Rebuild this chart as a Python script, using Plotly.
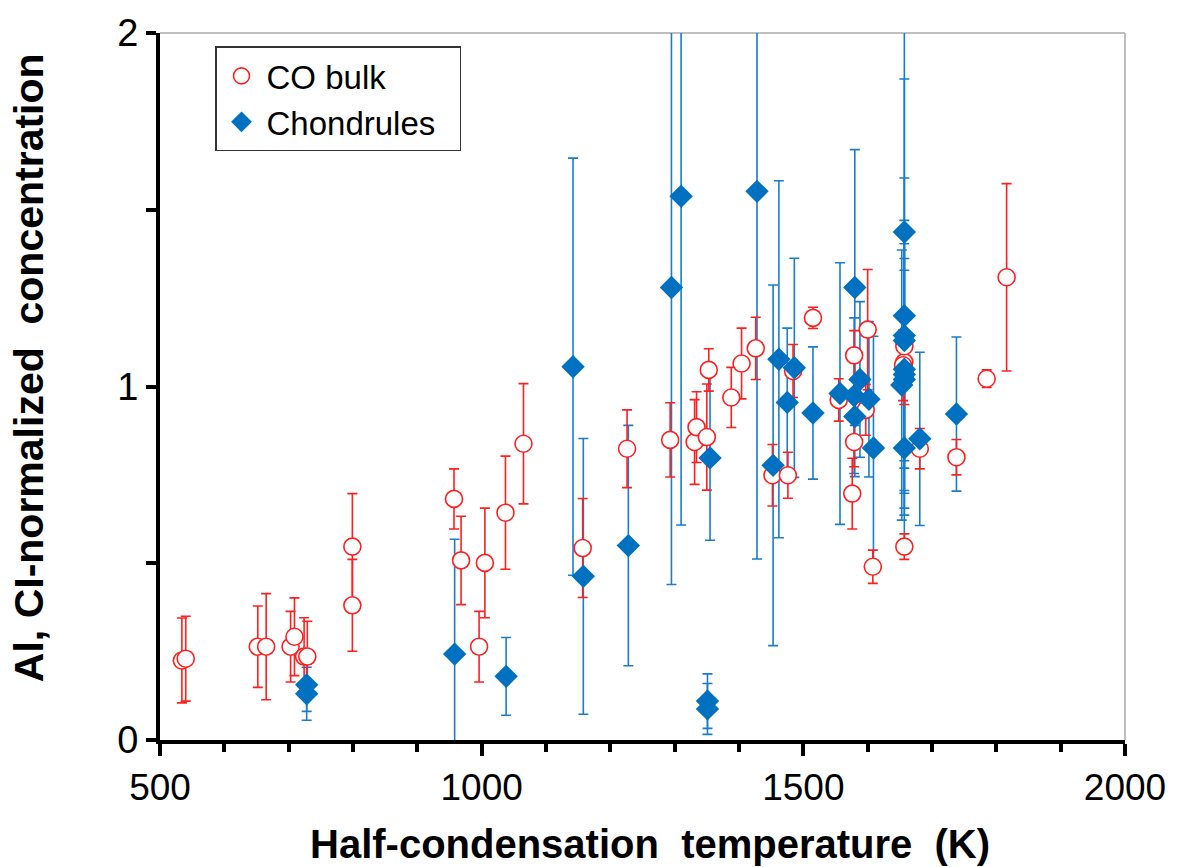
import plotly.graph_objects as go

# CO bulk (red open circles)
co_T = [534, 540, 652, 665, 703, 709, 724, 729, 799, 799, 957, 968, 996, 1005, 1037, 1065,
        1157, 1226, 1293, 1331, 1334, 1350, 1353, 1388, 1404, 1426, 1452, 1476, 1484, 1515,
        1555, 1576, 1579, 1579, 1597, 1600, 1608, 1657, 1657, 1655, 1657, 1681, 1738, 1785, 1816]
co_v = [0.225, 0.23, 0.264, 0.264, 0.264, 0.292, 0.236, 0.236, 0.547, 0.381, 0.682, 0.508, 0.264, 0.501, 0.643, 0.838,
        0.543, 0.824, 0.849, 0.843, 0.885, 0.857, 1.047, 0.969, 1.065, 1.108, 0.749, 0.749, 1.044, 1.194,
        0.962, 0.697, 0.843, 1.088, 0.934, 1.161, 0.49, 0.547, 1.069, 1.06, 1.114, 0.824, 0.80, 1.022, 1.309]
co_err = [0.12, 0.12, 0.115, 0.15, 0.1, 0.11, 0.11, 0.1, 0.15, 0.13, 0.085, 0.125, 0.1, 0.155, 0.16, 0.17,
          0.14, 0.11, 0.105, 0.12, 0.1, 0.15, 0.06, 0.085, 0.1, 0.088, 0.087, 0.065, 0.075, 0.03,
          0.06, 0.1, 0.07, 0.07, 0.072, 0.17, 0.047, 0.036, 0.12, 0.1, 0.08, 0.057, 0.05, 0.025, 0.265]

# Chondrules (blue diamonds)
ch_T = [728, 728, 958, 1038, 1142, 1158, 1228, 1295, 1310, 1351, 1351, 1355, 1428, 1453, 1462, 1475, 1486, 1515,
        1557, 1579, 1588, 1602, 1580, 1609, 1580, 1657, 1657, 1657, 1657, 1657, 1657, 1657, 1653, 1657, 1681, 1738]
ch_v = [0.156, 0.131, 0.243, 0.18, 1.056, 0.463, 0.55, 1.28, 1.538, 0.11, 0.088, 0.798, 1.552, 0.777, 1.077, 0.955, 1.053, 0.925,
        0.98, 0.974, 1.02, 0.964, 0.915, 0.826, 1.28, 1.437, 1.2, 1.144, 1.13, 1.049, 1.034, 1.02, 1.004, 0.826, 0.852, 0.922]
ch_err = [0.075, 0.075, 0.325, 0.11, 0.59, 0.39, 0.34, 0.84, 0.93, 0.077, 0.072, 0.233, 1.04, 0.51, 0.505, 0.21, 0.31, 0.187,
          0.37, 0.22, 0.22, 0.22, 0.17, 0.316, 0.39, 0.6, 0.67, 0.446, 0.34, 0.28, 0.328, 0.384, 0.382, 0.17, 0.245, 0.218]

x_tickvals = [500, 1000, 1500, 2000]
y_tickvals = [0, 1, 2]

RED = "#FF1F1F"
BLUE = "#0070C0"
BLUE_ERR = "#1A7DCB"
FONT = "Liberation Sans, Arial, sans-serif"

fig = go.Figure()

# blue error bars (drawn beneath everything)
fig.add_trace(go.Scatter(
    x=ch_T, y=ch_v, mode="markers", showlegend=False, hoverinfo="skip",
    marker=dict(size=1, color="rgba(0,0,0,0)"),
    error_y=dict(type="data", array=ch_err, symmetric=True, color=BLUE_ERR, thickness=1.6, width=5),
))

# CO bulk
fig.add_trace(go.Scatter(
    x=co_T, y=co_v, mode="markers", name="CO bulk\u00a0\u00a0",
    marker=dict(symbol="circle", size=17, color="white", line=dict(color=RED, width=1.6)),
    error_y=dict(type="data", array=co_err, symmetric=True, color=RED, thickness=1.6, width=5),
))

# Chondrules markers
fig.add_trace(go.Scatter(
    x=ch_T, y=ch_v, mode="markers", name="Chondrules\u00a0\u00a0",
    marker=dict(symbol="diamond", size=18, color=BLUE, line=dict(width=0)),
))

fig.update_layout(
    width=1180, height=867,
    margin=dict(l=160, r=55, t=28, b=127),
    paper_bgcolor="white", plot_bgcolor="white",
    font=dict(family=FONT, color="black", size=36),
    showlegend=True,
    legend=dict(
        x=0.057, y=0.981, xanchor="left", yanchor="top",
        bgcolor="white", bordercolor="#333333", borderwidth=1.5,
        font=dict(family=FONT, size=33, color="black"),
        itemwidth=40,
    ),
    xaxis=dict(
        range=[500, 2000], showgrid=False, zeroline=False,
        showline=True, linecolor="black", linewidth=4,
        ticks="outside", ticklen=12, tickwidth=4, tickcolor="black",
        tickmode="array", tickvals=x_tickvals, ticktext=[str(v) for v in x_tickvals],
        tickfont=dict(family=FONT, size=37, color="black"),
        ticklabeloverflow="allow",
        minor=dict(dtick=100, ticks="outside", ticklen=8, tickwidth=3.5, tickcolor="black", showgrid=False),
    ),
    yaxis=dict(
        range=[0, 2], showgrid=False, zeroline=False,
        showline=True, linecolor="black", linewidth=4,
        ticks="outside", ticklen=10, tickwidth=4, tickcolor="black",
        tickmode="array", tickvals=y_tickvals, ticktext=[str(v) for v in y_tickvals],
        tickfont=dict(family=FONT, size=38, color="black"),
        ticklabeloverflow="allow",
        minor=dict(dtick=0.5, ticks="outside", ticklen=10, tickwidth=3.5, tickcolor="black", showgrid=False),
    ),
    shapes=[
        dict(type="line", xref="paper", yref="paper", x0=0, x1=1, y0=1, y1=1,
             line=dict(color="#BFBFBF", width=2), layer="below"),
        dict(type="line", xref="paper", yref="paper", x0=1, x1=1, y0=0, y1=1,
             line=dict(color="#BFBFBF", width=2), layer="below"),
    ],
    annotations=[
        dict(text="<b>Half-condensation\u00a0\u00a0temperature\u00a0\u00a0(K)</b>",
             xref="paper", yref="paper", x=0.508, y=-0.147, xanchor="center", yanchor="middle",
             showarrow=False, font=dict(family=FONT, size=40, color="black")),
        dict(text="<b>Al,\u00a0CI-normalized\u00a0\u00a0concentration</b>",
             xref="paper", yref="paper", x=-0.135, y=0.527, xanchor="center", yanchor="middle",
             textangle=-90, showarrow=False, font=dict(family=FONT, size=41, color="black")),
    ],
)

fig.write_html("out.html", config={"displayModeBar": False},
               post_script="document.body.style.margin='0px';")
